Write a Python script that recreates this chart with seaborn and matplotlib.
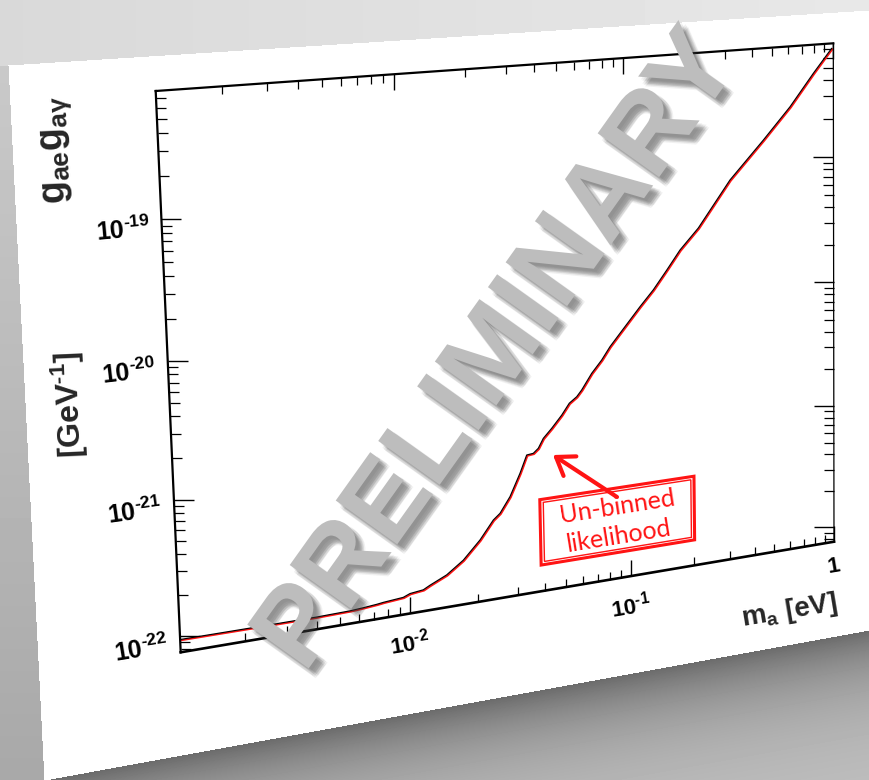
import numpy as np
import matplotlib
matplotlib.use("Agg")
import matplotlib.pyplot as plt
import matplotlib.patheffects as pe
import seaborn as sns
from matplotlib.axes import Axes
from matplotlib.path import Path
from matplotlib.patches import Rectangle, FancyArrowPatch
from matplotlib.ticker import FixedLocator, LogLocator, NullFormatter, FuncFormatter
from matplotlib.transforms import Transform, ScaledTranslation

# ---------------------------------------------------------------- data
mass_ev = [1.10e-3, 2.55e-3, 4.00e-3, 5.53e-3, 6.30e-3, 7.20e-3, 7.69e-3, 9.38e-3,
           1.004e-2, 1.148e-2, 1.229e-2, 1.458e-2, 1.732e-2, 2.064e-2, 2.376e-2,
           2.549e-2, 2.836e-2, 3.161e-2, 3.402e-2, 3.644e-2, 3.842e-2, 4.056e-2,
           4.436e-2, 4.938e-2, 5.359e-2, 5.800e-2, 6.121e-2, 6.823e-2, 7.602e-2,
           8.321e-2, 9.275e-2, 0.1034, 0.1153, 0.1334, 0.1546, 0.179, 0.219,
           0.3116, 0.4523, 0.6111, 0.7961, 0.9818]
g_limit = [9.45e-23, 9.40e-23, 9.40e-23, 9.50e-23, 9.65e-23, 9.85e-23, 1.00e-22, 1.03e-22,
           1.08e-22, 1.11e-22, 1.18e-22, 1.35e-22, 1.67e-22, 2.28e-22, 3.13e-22,
           3.46e-22, 4.53e-22, 6.68e-22, 9.08e-22, 9.20e-22, 9.93e-22, 1.17e-21,
           1.37e-21, 1.69e-21, 2.05e-21, 2.26e-21, 2.52e-21, 3.31e-21, 4.10e-21,
           5.10e-21, 6.33e-21, 7.85e-21, 9.74e-21, 1.28e-20, 1.77e-20, 2.47e-20, 3.53e-20,
           7.87e-20, 1.52e-19, 2.65e-19, 4.67e-19, 7.15e-19]
x_range = (1.1e-3, 1.0)
y_range = (7.6e-23, 7.8e-19)
x_major = [1e-2, 1e-1, 1.0]
y_major = [1e-22, 1e-21, 1e-20, 1e-19]

# annotation box (data coordinates) and arrow
note_lines = ["Un-binned", "likelihood"]
note_box_x = (0.0386, 0.203)
note_box_y = (1.22e-22, 3.96e-22)
note_inner_x = (0.0400, 0.196)
note_inner_y = (1.29e-22, 3.74e-22)
note_text_pos = [(0.0873, 2.80e-22), (0.0878, 1.65e-22)]
arrow_tail = (0.0874, 3.36e-22)
arrow_tip = (0.0447, 8.49e-22)

RED = "#ff1414"

# ---------------------------------------------------------------- style
sns.set_style("white")
plt.rcParams["font.family"] = ["Liberation Sans", "DejaVu Sans"]
plt.rcParams["font.weight"] = "bold"
plt.rcParams["mathtext.fontset"] = "custom"
plt.rcParams["mathtext.rm"] = "Liberation Sans:bold"
plt.rcParams["mathtext.bf"] = "Liberation Sans:bold"
plt.rcParams["mathtext.it"] = "Liberation Sans:bold:italic"

W_PX, H_PX = 869, 780
fig = plt.figure(figsize=(W_PX / 100, H_PX / 100), dpi=100)


# ---------------------------------------------------------------- perspective
def homography(src, dst):
    rows = []
    for (x, y), (X, Y) in zip(src, dst):
        rows.append([x, y, 1, 0, 0, 0, -X * x, -X * y, -X])
        rows.append([0, 0, 0, x, y, 1, -Y * x, -Y * y, -Y])
    _, _, vt = np.linalg.svd(np.array(rows, float))
    m = vt[-1].reshape(3, 3)
    return m / m[2, 2]


class Homography(Transform):
    """Projective map in display space (the slide is seen at an angle)."""
    input_dims = 2
    output_dims = 2
    is_separable = False
    has_inverse = True

    def __init__(self, matrix):
        super().__init__()
        self.matrix = np.asarray(matrix, float)

    def transform_non_affine(self, values):
        v = np.asarray(values, float)
        shape = v.shape
        v = v.reshape(-1, 2)
        p = np.column_stack([v, np.ones(len(v))]) @ self.matrix.T
        return (p[:, :2] / p[:, 2:3]).reshape(shape)

    def transform_path_non_affine(self, path):
        return Path(self.transform_non_affine(path.vertices), path.codes)

    def inverted(self):
        return Homography(np.linalg.inv(self.matrix))


# plot frame corners on the tilted slide (pixels, y down): BL, BR, TR, TL
frame_corners = [(180.7, 652.3), (834.0, 541.7), (833.3, 43.3), (155.7, 91.0)]
flat_x0, flat_y0, flat_w, flat_h = 170.0, 130.0, 665.0, 530.0
to_unit = np.linalg.inv(np.array([[flat_w, 0, flat_x0], [0, flat_h, flat_y0], [0, 0, 1]]))
to_frame = homography([(0, 0), (1, 0), (1, 1), (0, 1)], frame_corners)
flip = np.array([[1, 0, 0], [0, -1, H_PX], [0, 0, 1]])
warp = Homography(flip @ to_frame @ to_unit)


class SlideAxes(Axes):
    """Cartesian axes whose spines, ticks and labels are seen through `warp`."""

    def __init__(self, *args, warp=None, **kwargs):
        self._warp = warp
        super().__init__(*args, **kwargs)

    def _set_lim_and_transforms(self):
        super()._set_lim_and_transforms()
        self._xaxis_transform = self._xaxis_transform + self._warp
        self._yaxis_transform = self._yaxis_transform + self._warp


# ---------------------------------------------------------------- backdrop
bg = fig.add_axes([0, 0, 1, 1], zorder=-5)
bg.set_axis_off()
yy, xx = np.mgrid[0:H_PX, 0:W_PX].astype(float)
shade = 0.79 - 0.10 * yy / H_PX
top_y = 65 - (xx - 8) * (55 / 861)
bottom_y = 773 - (xx - 83) * (143 / 786)
left_x = 8 + (yy - 65) * (36 / 715)
above = yy < top_y
shade[above] = (0.85 + 0.06 * xx / W_PX)[above]
below = yy > bottom_y
depth = (yy - bottom_y) * 0.984
shade[below] = (0.76 - 0.34 * np.exp(-depth / 55))[below]
left = xx < left_x
shade[left & ~below & ~above] = (0.80 - 0.14 * yy / H_PX)[left & ~below & ~above]
inside = ~above & ~below & ~left
shade[inside] = 1.0
bg.imshow(shade, cmap="gray", vmin=0, vmax=1, extent=(0, W_PX, H_PX, 0),
          interpolation="bilinear", aspect="auto")
bg.set_xlim(0, W_PX)
bg.set_ylim(H_PX, 0)

# ---------------------------------------------------------------- chart
ax = SlideAxes(fig, [flat_x0 / W_PX, flat_y0 / H_PX, flat_w / W_PX, flat_h / H_PX], warp=warp)
fig.add_axes(ax)
ax.set_facecolor("none")
ax.set_xscale("log")
ax.set_yscale("log")

sns.lineplot(x=mass_ev, y=g_limit, ax=ax, color=RED, lw=1.3,
             estimator=None, errorbar=None, sort=False)
sns.lineplot(x=mass_ev, y=g_limit, ax=ax, color="black", lw=0.85,
             estimator=None, errorbar=None, sort=False)
red_line, black_line = ax.lines[0], ax.lines[1]
red_line.set_transform(ax.transData + warp
                       + ScaledTranslation(0.6 / 72, -0.6 / 72, fig.dpi_scale_trans))
black_line.set_transform(ax.transData + warp)
for ln in ax.lines:
    ln.set_clip_on(False)

ax.set_xlim(*x_range)
ax.set_ylim(*y_range)
ax.set_xlabel("")
ax.set_ylabel("")


def root_label(v, _pos):
    if np.isclose(v, 1.0):
        return "1"
    e = int(round(np.log10(v)))
    sign = "\u2010" if e < 0 else ""
    return r"$\mathdefault{10^{%s%d}}$" % (sign, abs(e))


ax.xaxis.set_major_locator(FixedLocator(x_major))
ax.yaxis.set_major_locator(FixedLocator(y_major))
ax.xaxis.set_major_formatter(FuncFormatter(root_label))
ax.yaxis.set_major_formatter(FuncFormatter(root_label))
ax.xaxis.set_minor_locator(LogLocator(base=10, subs=np.arange(2, 10), numticks=100))
ax.yaxis.set_minor_locator(LogLocator(base=10, subs=np.arange(2, 10), numticks=100))
ax.xaxis.set_minor_formatter(NullFormatter())
ax.yaxis.set_minor_formatter(NullFormatter())

ax.tick_params(axis="both", which="both", direction="in", colors="black",
               top=True, bottom=True, left=True, right=True)
ax.tick_params(axis="x", which="major", length=11.5, width=1.0, labelsize=16, pad=10)
ax.tick_params(axis="x", which="minor", length=5.8, width=0.9)
ax.tick_params(axis="y", which="major", length=14.4, width=1.0, labelsize=18, pad=7)
ax.tick_params(axis="y", which="minor", length=7.2, width=0.9)

for side, lw in [("left", 1.6), ("bottom", 1.9), ("top", 1.6), ("right", 0.9)]:
    ax.spines[side].set_visible(True)
    ax.spines[side].set_color("black")
    ax.spines[side].set_linewidth(lw)

# annotation: double-bordered red box, text and arrow
warped_data = ax.transData + warp
for (bx, by), lw in [((note_box_x, note_box_y), 2.2), ((note_inner_x, note_inner_y), 1.0)]:
    ax.add_artist(Rectangle((bx[0], by[0]), bx[1] - bx[0], by[1] - by[0],
                            transform=warped_data, facecolor="white" if lw > 2 else "none",
                            edgecolor=RED, lw=lw, clip_on=False, zorder=4))
for (tx, ty), line in zip(note_text_pos, note_lines):
    ax.text(tx, ty, line, transform=warped_data, transform_rotates_text=True,
            ha="center", va="center", color=RED, fontsize=18, fontweight="normal",
            family=["Lato", "DejaVu Sans"], clip_on=False, zorder=5)
ax.add_artist(FancyArrowPatch(arrow_tail, arrow_tip, transform=warped_data,
                              arrowstyle="->,head_length=0.6,head_width=0.42",
                              mutation_scale=20, lw=3.0, color=RED,
                              shrinkA=0, shrinkB=0, clip_on=False, zorder=5))


# ---------------------------------------------------------------- titles
def fig_px(x, y):
    return x / W_PX, 1 - y / H_PX


fig.text(*fig_px(58, 150), r"g$_{\mathdefault{ae}}$g$_{\mathdefault{a\gamma}}$",
         rotation=92.5, ha="center", va="center", fontsize=27)
fig.text(*fig_px(70, 405), "[GeV$^{\\mathdefault{\u20101}}$]",
         rotation=92.5, ha="center", va="center", fontsize=23)
fig.text(*fig_px(789, 611), r"m$_{\mathdefault{a}}$ [eV]",
         rotation=9.5, ha="center", va="center", fontsize=20)

shadow = [pe.SimplePatchShadow(offset=(dx, dy), shadow_rgbFace="0.25", alpha=0.07)
          for dx, dy in [(2, -2), (3, -3), (4, -4), (5, -5), (6, -6), (3, -5), (5, -3),
                         (4, -6), (6, -4), (7, -5), (5, -7)]]
fig.text(*fig_px(500, 352), "PRELIMINARY", rotation=54.5, ha="center", va="center",
         fontsize=79, fontweight="bold", color="#bdbdbd", zorder=10,
         path_effects=shadow + [pe.Normal()])

# tick labels follow the tilt of the slide
fig.canvas.draw()
for tk in ax.xaxis.get_major_ticks():
    tk.label1.set_transform_rotates_text(True)
for tk in ax.yaxis.get_major_ticks():
    tk.label1.set_transform_rotates_text(True)
    tk.label1.set_transform(tk.label1.get_transform()
                            + ScaledTranslation(0, -4.5 / 72, fig.dpi_scale_trans))

fig.savefig("out.png", dpi=100)
